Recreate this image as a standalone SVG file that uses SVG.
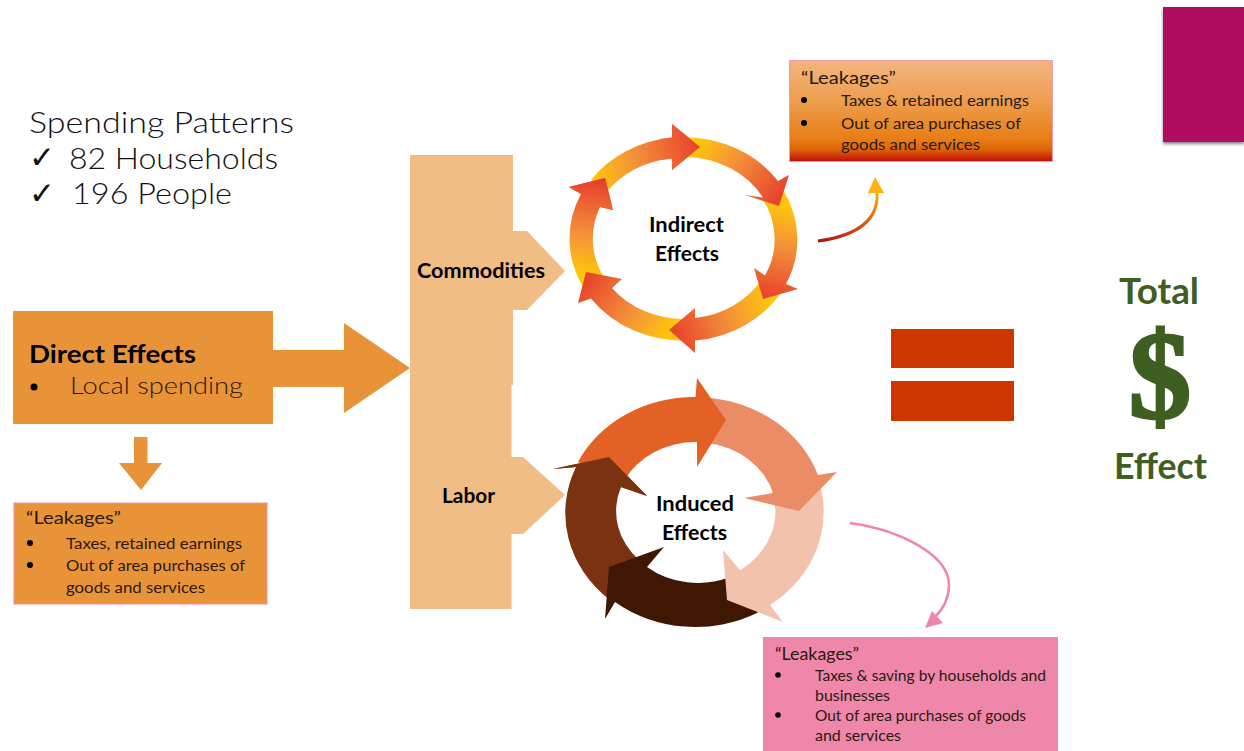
<svg xmlns="http://www.w3.org/2000/svg" xmlns:xlink="http://www.w3.org/1999/xlink" width="1244" height="751" viewBox="0 0 1244 751">
<style>
text{font-family:"Lato","Liberation Sans",sans-serif;fill:#1a1a1a}
.b{font-weight:700;fill:#000}
.s{font-size:15.5px;fill:#2a1a10}
.lk{font-size:18px;fill:#2a1a10}
.g{font-weight:300;font-size:30px;fill:#111}
.tot{font-weight:700;font-size:36px;fill:#3f5e22}
.col{fill:#f0bd85}
.org{fill:#e99339}
.ck{font-family:"DejaVu Sans",sans-serif;font-size:31px;fill:#111}
</style>
<defs>
<linearGradient id="rg"><stop offset="0" stop-color="#ffc60c"/><stop offset=".42" stop-color="#f3923a"/><stop offset="1" stop-color="#e8412c"/></linearGradient>
<linearGradient id="g1" xlink:href="#rg" href="#rg" gradientUnits="userSpaceOnUse" x1="590" y1="175" x2="700" y2="147"/>
<linearGradient id="g2" xlink:href="#rg" href="#rg" gradientUnits="userSpaceOnUse" x1="695" y1="145" x2="775" y2="205"/>
<linearGradient id="g3" xlink:href="#rg" href="#rg" gradientUnits="userSpaceOnUse" x1="785" y1="205" x2="765" y2="298"/>
<linearGradient id="g4" xlink:href="#rg" href="#rg" gradientUnits="userSpaceOnUse" x1="770" y1="298" x2="670" y2="330"/>
<linearGradient id="g5" xlink:href="#rg" href="#rg" gradientUnits="userSpaceOnUse" x1="672" y1="330" x2="586" y2="275"/>
<linearGradient id="g6" xlink:href="#rg" href="#rg" gradientUnits="userSpaceOnUse" x1="590" y1="275" x2="600" y2="182"/>
<linearGradient id="box" x1="0" y1="0" x2="0" y2="1"><stop offset="0" stop-color="#f2b680"/><stop offset=".45" stop-color="#ec9a48"/><stop offset=".78" stop-color="#e87d14"/><stop offset=".88" stop-color="#de6408"/><stop offset="1" stop-color="#c00d06"/></linearGradient>
<linearGradient id="cv" gradientUnits="userSpaceOnUse" x1="818" y1="241" x2="877" y2="185"><stop offset="0" stop-color="#b50f10"/><stop offset=".55" stop-color="#d8500f"/><stop offset="1" stop-color="#ffb90f"/></linearGradient>
<filter id="sh" x="-10%" y="-10%" width="120%" height="120%"><feDropShadow dx="0" dy="2" stdDeviation="1.5" flood-color="#555" flood-opacity=".7"/></filter>
</defs>
<rect width="1244" height="751" fill="#fff"/>

<g id="corner"><rect x="1163" y="7" width="81" height="135" fill="#b01160" filter="url(#sh)"/></g>

<g id="spending">
<text class="g" x="29" y="133" textLength="265" lengthAdjust="spacingAndGlyphs">Spending Patterns</text>
<text class="ck" x="29" y="168">✓</text>
<text class="g" x="69" y="169" textLength="209" lengthAdjust="spacingAndGlyphs">82 Households</text>
<text class="ck" x="29" y="204">✓</text>
<text class="g" x="72" y="204" textLength="160" lengthAdjust="spacingAndGlyphs">196 People</text>
</g>

<g id="column">
<path class="col" d="M410 155H513V231H527L565 271L527 310H513V385H511.500V457H523L565 495L523 534H511.500V609H410Z"/>
<text class="b" x="417" y="278" font-size="20" textLength="128" lengthAdjust="spacingAndGlyphs">Commodities</text>
<text class="b" x="442" y="503" font-size="20" textLength="53" lengthAdjust="spacingAndGlyphs">Labor</text>
</g>

<g id="direct">
<rect class="org" x="13" y="311" width="260" height="113"/>
<text class="b" x="29" y="363" font-size="25" textLength="167" lengthAdjust="spacingAndGlyphs">Direct Effects</text>
<circle cx="34" cy="387" r="3.500" fill="#000"/>
<text x="70" y="394" font-size="23" font-weight="300" style="fill:#2a1a08" textLength="173" lengthAdjust="spacingAndGlyphs">Local spending</text>
</g>

<g id="leak-direct">
<rect class="org" x="14" y="503" width="253" height="101" stroke="#ec8fa8" stroke-width="1"/>
<text class="lk" x="26" y="524" textLength="95" lengthAdjust="spacingAndGlyphs">“Leakages”</text>
<circle cx="30" cy="543" r="3" fill="#000"/><circle cx="30" cy="565" r="3" fill="#000"/>
<text class="s" x="66" y="549" textLength="176" lengthAdjust="spacingAndGlyphs">Taxes, retained earnings</text>
<text class="s" x="66" y="571" textLength="179" lengthAdjust="spacingAndGlyphs">Out of area purchases of</text>
<text class="s" x="66" y="593" textLength="139" lengthAdjust="spacingAndGlyphs">goods and services</text>
</g>

<g id="indirect">
<path fill="url(#g1)" d="M591 180A114 102 0 0 1 672 137.500V124L700 147L672 170V158.500A91 81 0 0 0 606 193Z"/>
<path fill="url(#g6)" d="M585 290A114 102 0 0 1 581 194L569 187L605 178L613 210L600 207A91 81 0 0 0 607 282Z"/>
<path fill="url(#g5)" d="M690 340.500A114 102 0 0 1 591 298.500L578 303L586 272L622 279L612 288A91 81 0 0 0 685 319Z"/>
<path fill="url(#g4)" d="M784 288A114 102 0 0 1 695 340.500V353L669 330L695 308V318A91 81 0 0 0 762 279Z"/>
<path fill="url(#g3)" d="M783 190A114 102 0 0 1 786 284L798 289L763 299L754 268L765 275.500A91 81 0 0 0 762 198Z"/>
<path fill="url(#g2)" d="M685 137.200A114 102 0 0 1 778 181L789 175L779 206L745 195L763 197.600A91 81 0 0 0 685 157Z"/>
<path fill="url(#g1)" d="M660 139L672 137.500V124L700 147L672 170V158.500L660 160Z"/>
<path fill="url(#g6)" d="M581 194L569 187L605 178L613 210L600 207Z"/>
<text class="b" x="649" y="232" font-size="20" textLength="75" lengthAdjust="spacingAndGlyphs">Indirect</text>
<text class="b" x="655" y="261" font-size="20" textLength="64" lengthAdjust="spacingAndGlyphs">Effects</text>
</g>

<g id="leak-indirect">
<rect x="789.500" y="60.500" width="263" height="101" fill="url(#box)" stroke="#ee9ab0" stroke-width="1"/>
<text class="lk" x="801" y="84" textLength="95" lengthAdjust="spacingAndGlyphs">“Leakages”</text>
<circle cx="804" cy="100" r="3" fill="#000"/><circle cx="804" cy="123" r="3" fill="#000"/>
<text class="s" x="841" y="106" textLength="188" lengthAdjust="spacingAndGlyphs">Taxes &amp; retained earnings</text>
<text class="s" x="841" y="129" textLength="180" lengthAdjust="spacingAndGlyphs">Out of area purchases of</text>
<text class="s" x="841" y="150" textLength="139" lengthAdjust="spacingAndGlyphs">goods and services</text>
</g>

<g id="induced">
<path fill="#7a3210" d="M610 600A129 115 0 0 1 576 467L553 469L609 457L647 496L621 487A80 70 0 0 0 640 561Z"/>
<path fill="#3f1703" d="M758 612.500A129 115 0 0 1 615 602L605 619L609 567L664 547L647 567A80 70 0 0 0 730 577Z"/>
<path fill="#f3c2ac" d="M818 478A129 115 0 0 1 770 605L783 622L727 600L723 550L740 570A80 70 0 0 0 772 492Z"/>
<path fill="#ea8c66" d="M705 397.500A129 115 0 0 1 818 475L837 472L799 511L744 498L773 493A80 70 0 0 0 708 443Z"/>
<path fill="#e46126" d="M578 462A129 115 0 0 1 695.500 397L697 378L726 420L697 467V442A80 70 0 0 0 624 481Z"/>
<path fill="#7a3210" d="M576 467L553 469L609 457L647 496L621 487L612 500L590 490Z"/>
<text class="b" x="656" y="511" font-size="20" textLength="78" lengthAdjust="spacingAndGlyphs">Induced</text>
<text class="b" x="662" y="540" font-size="20" textLength="65" lengthAdjust="spacingAndGlyphs">Effects</text>
</g>

<g id="leak-induced">
<rect x="763" y="637" width="295" height="114" fill="#ee87a9"/>
<text class="lk" x="775" y="660" textLength="84" lengthAdjust="spacingAndGlyphs" style="font-size:16.500px">“Leakages”</text>
<circle cx="778" cy="675" r="2.800" fill="#000"/><circle cx="778" cy="715" r="2.800" fill="#000"/>
<text class="s" x="815" y="681" textLength="231" lengthAdjust="spacingAndGlyphs">Taxes &amp; saving by households and</text>
<text class="s" x="815" y="701" textLength="75" lengthAdjust="spacingAndGlyphs">businesses</text>
<text class="s" x="815" y="721" textLength="211" lengthAdjust="spacingAndGlyphs">Out of area purchases of goods</text>
<text class="s" x="815" y="741" textLength="86" lengthAdjust="spacingAndGlyphs">and services</text>
</g>

<g id="equals">
<rect x="891" y="329" width="123" height="39" fill="#cc3700"/>
<rect x="891" y="381" width="123" height="40" fill="#cc3700"/>
</g>

<g id="total">
<text class="tot" x="1119" y="304" textLength="80" lengthAdjust="spacingAndGlyphs">Total</text>
<text x="1160" y="418" text-anchor="middle" font-size="125" font-weight="700" stroke="#3f5e22" stroke-width="3" style="font-family:'Liberation Serif',serif;fill:#3f5e22">$</text>
<text class="tot" x="1114" y="479" textLength="93" lengthAdjust="spacingAndGlyphs">Effect</text>
</g>

<g id="connectors">
<path class="org" d="M273 350H344V323L410 368L344 413V387H273Z"/>
<path class="org" d="M134 437H147.500V463H162L141 490L119 463H134Z"/>
<path d="M818 241C855 236 879 222 877 192" fill="none" stroke="url(#cv)" stroke-width="3"/>
<path d="M868 193L875 177L884 193Z" fill="#ffb20f"/>
<path d="M850 523C900 530 949 555 949 585C949 600 942 610 935 617" fill="none" stroke="#ee87a9" stroke-width="2.500"/>
<path d="M925 628L932 611L943 623Z" fill="#ee87a9"/>
</g>
</svg>
